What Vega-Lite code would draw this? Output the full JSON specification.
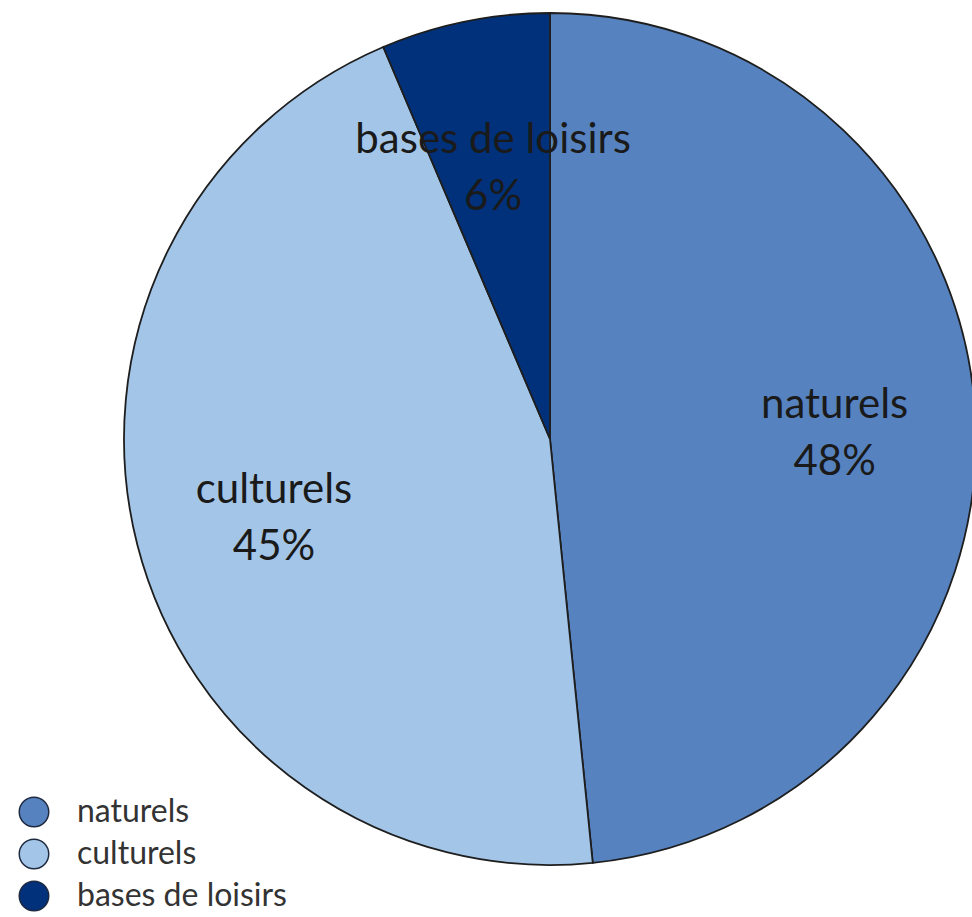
{
  "$schema": "https://vega.github.io/schema/vega-lite/v6.json",
  "width": 1100,
  "height": 878,
  "padding": 0,
  "background": "white",
  "data": {
    "values": [
      {"categorie": "naturels", "part": 48.4, "ordre": 1, "label": "naturels\n48%"},
      {"categorie": "culturels", "part": 45.2, "ordre": 2, "label": "culturels\n45%"},
      {"categorie": "bases de loisirs", "part": 6.4, "ordre": 3, "label": "bases de loisirs\n6%"}
    ]
  },
  "encoding": {
    "theta": {"field": "part", "type": "quantitative", "stack": true},
    "order": {"field": "ordre", "type": "quantitative"}
  },
  "layer": [
    {
      "mark": {"type": "arc", "outerRadius": 426, "stroke": "#1e1e1e", "strokeWidth": 1.8},
      "encoding": {
        "color": {
          "field": "categorie",
          "type": "nominal",
          "scale": {
            "domain": ["naturels", "culturels", "bases de loisirs"],
            "range": ["#5683c0", "#a3c6e8", "#00317a"]
          },
          "legend": {
            "title": null,
            "orient": "none",
            "legendX": 18,
            "legendY": 796,
            "symbolType": "circle",
            "symbolSize": 870,
            "symbolStrokeColor": "#1e2a40",
            "symbolStrokeWidth": 1.5,
            "labelFont": "Lato",
            "labelFontSize": 32,
            "labelLimit": 500,
            "labelColor": "#333333",
            "labelOffset": 27,
            "rowPadding": 6
          }
        }
      }
    },
    {
      "mark": {"type": "text", "radius": 285, "dy": -20, "font": "Lato", "fontSize": 42, "lineBreak": "\n", "lineHeight": 57, "color": "#1a1a1a", "align": "center", "baseline": "middle"},
      "encoding": {
        "text": {"field": "label", "type": "nominal"}
      }
    }
  ]
}
